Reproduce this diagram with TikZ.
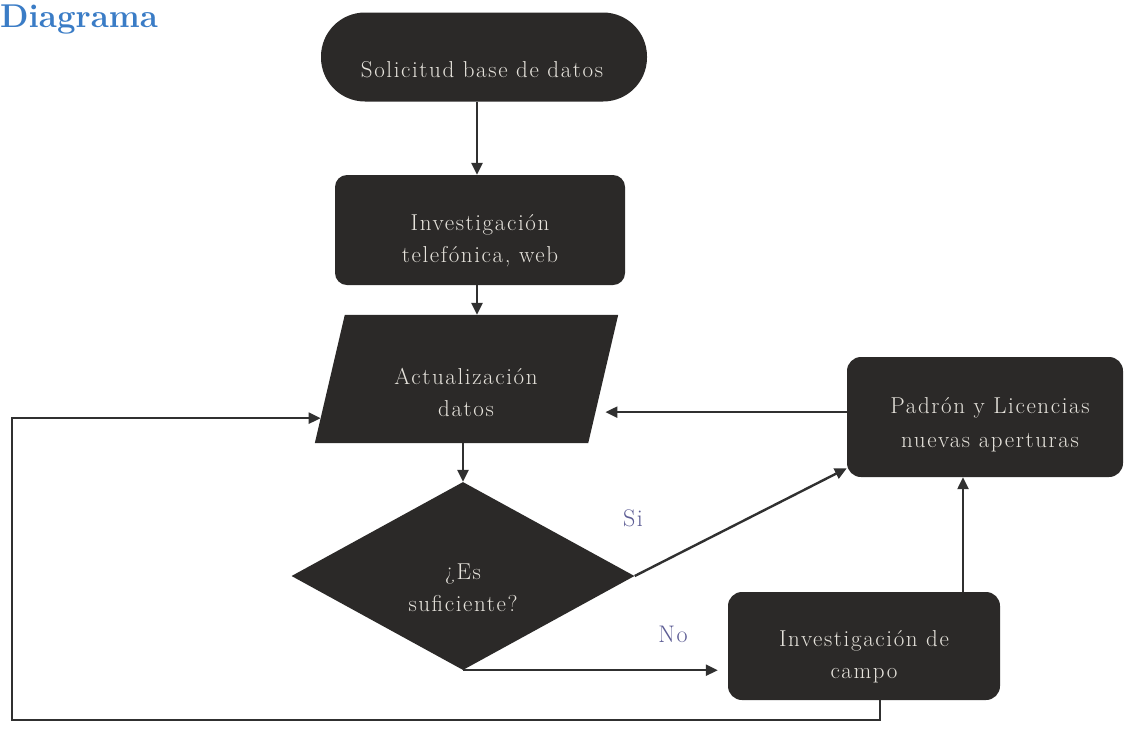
\documentclass[tikz,border=0pt]{standalone}
\usepackage{fontspec}
\setmainfont{Latin Modern Roman}
\newfontfamily\boxfont{Latin Modern Roman}[LetterSpace=7]
\usetikzlibrary{arrows.meta,calc,shapes.geometric}
\definecolor{boxfill}{HTML}{2B2928}
\definecolor{boxtext}{HTML}{E6E3DC}
\definecolor{linecol}{HTML}{303030}
\definecolor{titleblue}{HTML}{3A7CC6}
\definecolor{branchcol}{HTML}{5C5C94}
\begin{document}
\begin{tikzpicture}[x=1pt,y=-1pt,
  box/.style={fill=boxfill,draw=none,inner sep=0pt},
  txt/.style={text=boxtext,align=center,inner sep=0pt,
    font=\boxfont\fontsize{23}{32}\selectfont},
  branch/.style={text=branchcol,inner sep=0pt,font=\boxfont\fontsize{24}{26}\selectfont},
  arr/.style={draw=linecol,line width=2.4pt,-{Triangle[length=12pt,width=11pt]}}]
\useasboundingbox (0,0) rectangle (1129,729);
\fill[white] (0,0) rectangle (1129,729);

% title
\node[anchor=base west,inner sep=0pt,text=titleblue,
  font=\fontsize{33}{36}\selectfont\bfseries] (title) at (0,27) {Diagrama};

% shapes
\node[box,rectangle,rounded corners=44pt,minimum width=326pt,minimum height=89pt] (n1) at (484,57) {};
\node[box,rectangle,rounded corners=12pt,minimum width=290pt,minimum height=110pt] (n2) at (480,230) {};
% data box: a parallelogram slanted 15pt either way around its body rectangle
\node[rectangle,inner sep=0pt,minimum width=273pt,minimum height=128pt] (n3) at (466.5,379) {};
\coordinate (p3tl) at ($(n3.north west)+(15,0)$);
\coordinate (p3tr) at ($(n3.north east)+(15,0)$);
\coordinate (p3br) at ($(n3.south east)+(-15,0)$);
\coordinate (p3bl) at ($(n3.south west)+(-15,0)$);
\fill[boxfill] (p3tl) -- (p3tr) -- (p3br) -- (p3bl) -- cycle;
\node[box,diamond,minimum width=343pt,minimum height=188pt] (n4) at (463,576) {};
\node[box,rectangle,rounded corners=14pt,minimum width=276pt,minimum height=120pt] (n5) at (985,417) {};
\node[box,rectangle,rounded corners=14pt,minimum width=272pt,minimum height=108pt] (n6) at (864,646) {};

% texts
\node[txt] (t1) at (482,70) {Solicitud base de datos};
\node[txt] (t2) at (480,241) {Investigación\\telefónica, web};
\node[txt] (t3) at (466,392) {Actualización\\datos};
\node[txt] (t4) at (463,588) {¿Es\\suficiente?};
\node[txt,font=\boxfont\fontsize{23}{34}\selectfont] (t5) at (990,425) {Padrón y Licencias\\nuevas aperturas};
\node[txt] (t6) at (864,657) {Investigación de\\campo};

\node[branch] (si) at (633,518) {Si};
\node[branch] (no) at (673,634) {No};

% connection points
\coordinate (ax) at (477,0);
\coordinate (pl) at ($(p3bl)!0.195!(p3tl)$);
\coordinate (pr) at ($(p3br)!0.242!(p3tr)$);
\coordinate (up) at ($(n6.north)+(99,0)$);
\coordinate (dn) at ($(n6.south)+(16,0)$);
\coordinate (lb) at (12,720);

% connectors
\draw[arr] (n1.south -| ax) -- (n2.north -| ax);
\draw[arr] (n2.south -| ax) -- (n3.north -| ax);
\draw[arr] (n3.south -| n4.north) -- (n4.north);
\draw[arr,shorten >=10pt] (n5.west |- pr) -- (pr);
\draw[arr] (n4.east) -- ($(n5.south west)+(0,-9)$);
\draw[arr,shorten >=10pt] (n4.south) -- (n4.south -| n6.west);
\draw[arr] (up) -- (up |- n5.south);
\draw[arr] (dn) |- (lb) -- (lb |- pl) -- (pl);
\end{tikzpicture}
\end{document}
